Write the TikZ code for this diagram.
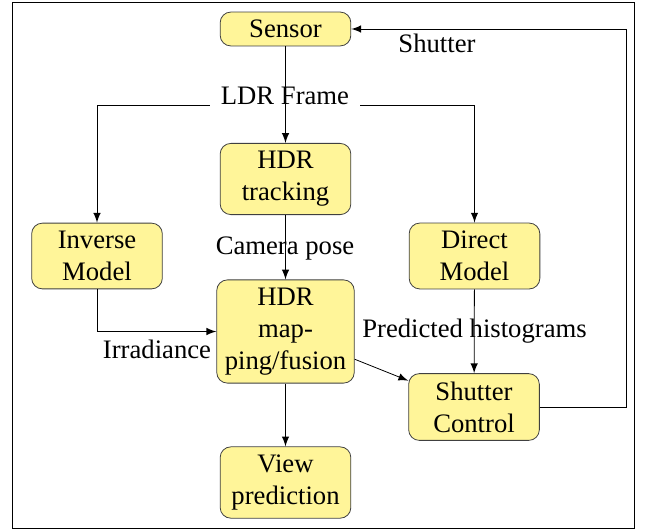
\documentclass[tikz,border=0pt]{standalone}
\usepackage{fontspec}
\setmainfont{Liberation Serif}
\usepackage{tikz}
\usepackage{xcolor}
\usetikzlibrary{calc}
\definecolor{boxyellow}{RGB}{255,245,153}

\begin{document}
\begin{tikzpicture}[x=0.375pt,y=-0.375pt,>=latex,line width=0.3pt]
        \tikzstyle{every node}=[inner sep=3pt]
        \tikzstyle{block}=[draw=black!75,fill=boxyellow,rounded corners=4pt,minimum width=49pt,align=center]
        \tikzstyle{lbl}=[anchor=base,inner sep=4pt]
        \useasboundingbox (0,0) rectangle (646,531);
        \draw (12,2) rectangle (634,528);
        % blocks
        \node[block] (sensor) at (285.5,29) {Sensor};
        \node[block] (track) at (285.5,179) {HDR\\tracking};
        \node[block] (inverse) at (97,256) {Inverse\\Model};
        \node[block] (direct) at (474.5,256) {Direct\\Model};
        \node[block] (map) at (285.5,331.5) {HDR\\map-\\ping/fusion};
        \node[block] (shutter) at (474,407) {Shutter\\Control};
        \node[block] (view) at (285.5,482.5) {View\\prediction};
        % labels
        \node[lbl] (ldr) at (285,105) {LDR Frame};
        \node[lbl] (pose) at (285,254) {Camera pose};
        \node[lbl] (irr) at (157,358) {Irradiance};
        \node[lbl] (hist) at (474.5,337) {Predicted histograms};
        \node[lbl] (shut) at (437,53) {Shutter};
        \coordinate (back) at (626,29);
        % connectors
        \draw[->] (sensor)--(track);
        \draw[->] (ldr.base west) -| (inverse);
        \draw[->] (ldr.base east) -| (direct);
        \draw[->] (track)--(map);
        \draw[->] (inverse) |- (map);
        \draw[->] (direct)--(shutter);
        \draw[->] (map)--(shutter);
        \draw[->] (map)--(view);
        \draw[->] (shutter) -| (back) -- (sensor);
    \end{tikzpicture}
\end{document}
